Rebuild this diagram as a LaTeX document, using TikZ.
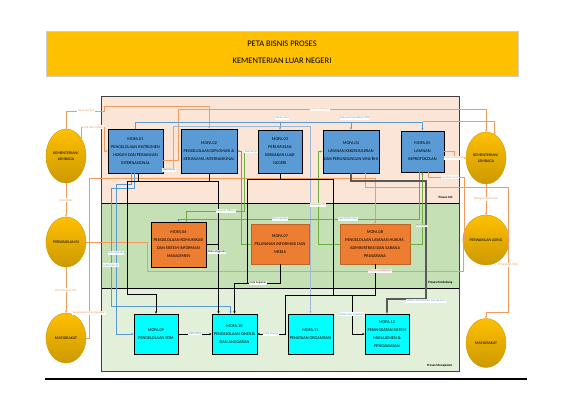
\documentclass[tikz,border=0pt]{standalone}
\usepackage{fontspec}
\setmainfont{Carlito}
\usetikzlibrary{arrows.meta,shapes.geometric}
\definecolor{coreblue}{HTML}{5B9BD5}
\definecolor{suporange}{HTML}{ED7D31}
\definecolor{mgmtcyan}{HTML}{00FFFF}
\definecolor{gold}{HTML}{FFC000}
\definecolor{golddark}{HTML}{CC9900}
\definecolor{titleedge}{HTML}{D0CECE}
\definecolor{peach}{HTML}{FBE5D6}
\definecolor{midgreen}{HTML}{C5E0B4}
\definecolor{lightgreen}{HTML}{E2F0D9}
\definecolor{framegray}{HTML}{404040}
\definecolor{lineorange}{HTML}{F19B5E}
\definecolor{lineblue}{HTML}{5B9BD5}
\definecolor{paleblue}{HTML}{9DB9D5}
\definecolor{linegreen}{HTML}{70AD47}
\definecolor{linegray}{HTML}{595959}
\tikzset{
  mofa/.style={draw=black, line width=0.8pt, align=center, inner sep=1pt, font=\fontsize{4.3}{8}\selectfont},
  inti/.style={mofa, fill=coreblue},
  dukung/.style={mofa, fill=suporange},
  manaj/.style={mofa, fill=mgmtcyan},
  aktor/.style={ellipse, draw=golddark, line width=0.4pt, top color=gold, bottom color=golddark, minimum width=40pt, minimum height=50pt, inner sep=0pt, align=center, font=\fontsize{4}{6}\selectfont},
  oline/.style={draw=lineorange, line width=0.8pt},
  bline/.style={draw=lineblue, line width=0.8pt},
  pbline/.style={draw=paleblue, line width=0.8pt},
  gline/.style={draw=linegreen, line width=0.7pt},
  kline/.style={draw=black, line width=0.8pt},
  arr/.style={-{Stealth[length=2.4pt,width=2.2pt]}},
  tag/.style={fill=white, inner sep=0.5pt, font=\fontsize{3}{3.5}\selectfont},
  pita/.style={font=\fontsize{3.2}{4}\selectfont\bfseries, anchor=east}
}
\begin{document}
\begin{tikzpicture}[x=1pt,y=1pt,yscale=-1]
\useasboundingbox (0,0) rectangle (576,402);

% Title
\draw[draw=titleedge, line width=1pt, fill=gold] (46,31) rectangle (518,76);
\node[font=\fontsize{8.5}{9}\selectfont] (judul1) at (282,44) {PETA BISNIS PROSES};
\node[font=\fontsize{8.5}{9}\selectfont] (judul2) at (282,61) {KEMENTERIAN LUAR NEGERI};

% Bands
\fill[peach] (101,96) rectangle (459,203);
\fill[midgreen] (101,203) rectangle (459,288);
\fill[lightgreen] (101,288) rectangle (459,371);
\draw[line width=0.6pt] (101,203) -- (459,203) (101,288) -- (459,288);
\draw[draw=framegray, line width=1pt] (101,96) rectangle (459,371);
\node[pita] (inti) at (456,197) {Proses Inti};
\node[pita] (dukung) at (456,283) {Proses Pendukung};
\node[pita] (manaj) at (456,366) {Proses Manajemen};

% Bottom rule
\draw[line width=1.8pt] (45,379) -- (527,379);

% Actors
\node[aktor, minimum height=54pt] (kl1) at (66,156) {KEMENTERIAN/\\LEMBAGA};
\node[aktor] (pa1) at (66,242) {PERWAKILAN RI};
\node[aktor] (mas1) at (66,338) {MASYARAKAT};
\node[aktor, minimum height=52pt] (kl2) at (486,158) {KEMENTERIAN/\\LEMBAGA};
\node[aktor] (pa2) at (486,240) {PERWAKILAN ASING};
\node[aktor, minimum height=49pt] (mas2) at (486,343) {MASYARAKAT};

% Proses inti
\node[inti, minimum width=55pt, minimum height=44pt] (m01) at (135.5,151) {MOFA.01\\PENGELOLAAN INSTRUMEN\\HUKUM DAN PERJANJIAN\\INTERNASIONAL};
\node[inti, minimum width=56pt, minimum height=44pt] (m02) at (209,151) {MOFA.02\\PENGELOLAAN DIPLOMASI \&\\KERJASAMA INTERNASIONAL};
\node[inti, minimum width=44pt, minimum height=43pt] (m03) at (280,151.5) {MOFA.03\\PERUMUSAN\\KEBIJAKAN LUAR\\NEGERI};
\node[inti, minimum width=56pt, minimum height=43pt] (m04) at (351,151.5) {MOFA.04\\LAYANAN KEKONSULERAN\\DAN PERLINDUNGAN WNI/BHI};
\node[inti, minimum width=43pt, minimum height=41pt] (m05) at (422.5,151.5) {MOFA.05\\LAYANAN\\KEPROTOKOLAN};

% Proses pendukung
\node[dukung, minimum width=55pt, minimum height=45pt] (m06) at (178.5,244.5) {MOFA.06\\PENGELOLAAN KOMUNIKASI\\DAN SISTEM INFORMASI\\MANAJEMEN};
\node[dukung, draw=suporange!80!black, line width=0.4pt, minimum width=58pt, minimum height=40pt] (m07) at (280,244) {MOFA.07\\PELAYANAN INFORMASI DAN\\MEDIA};
\node[dukung, draw=suporange!80!black, line width=0.4pt, minimum width=70pt, minimum height=40pt] (m08) at (375,244) {MOFA.08\\PENGELOLAAN LAYANAN HUKUM,\\ADMINISTRASI DAN SARANA\\PRASARANA};

% Proses manajemen
\node[manaj, minimum width=44pt, minimum height=40pt] (m09) at (156,334) {MOFA.09\\PENGELOLAAN SDM};
\node[manaj, minimum width=45pt, minimum height=40pt] (m10) at (234.5,334) {MOFA.10\\PENGELOLAAN KINERJA\\DAN ANGGARAN};
\node[manaj, minimum width=45pt, minimum height=40pt] (m11) at (310.5,334) {MOFA.11\\PENATAAN ORGANISASI};
\node[manaj, minimum width=44pt, minimum height=40pt] (m12) at (387,334) {MOFA.12\\PENINGKATAN SISTEM\\MANAJEMEN \&\\PENGAWASAN};
\coordinate (jalur2) at ([xshift=-16pt]m10.north);

% Orange lines
\draw[oline,arr] (kl1.north) |- (104,111) |- (m02.north |- 0,106) -- (m02.north);
\draw[oline,arr] (kl1.50) |- (104,127) |- (m01.west);
\draw[oline,arr] (m01.east |- 0,160) -| (178,109) -| (kl2.north);
\draw[oline,arr] (m05.north |- 0,121) -| (kl2.70);
\draw[oline,arr] (m05.east) -| (454,158) -- (kl2.west);
\draw[oline,arr] ([xshift=6pt]m05.south) |- (464,177) |- (pa2.west);
\draw[oline,arr] (kl2.south) -- (pa2.north);
\draw[oline,arr] ([xshift=14pt]m04.south) |- (508,187) |- (486,312) -- (mas2.north);
\draw[oline,arr] (kl1.south) -- (pa1.north);
\draw[oline,arr] (pa1.south) -- (mas1.north);
\draw[oline,arr] (pa1.east) -| (147,271) -- (463,271) |- (pa2.west);
\draw[oline,arr] (mas1.east) -| (89,178) -| (m08.north);

% Blue lines
\draw[bline,arr] (m01.north) |- (m05.north |- 0,122) -- (m05.north);
\draw[bline,arr] (m03.north |- 0,122) -- (m03.north);
\draw[bline,arr] (m04.north |- 0,122) -- (m04.north);
\draw[pbline,arr] (m01.east |- 0,170) -| (173,126) -| (m11.north);
\draw[bline,arr] ([xshift=-4pt]m01.south) |- (116,184) |- (m09.west);
\draw[bline,arr] ([xshift=-1pt]m01.south) |- (111,188) |- ([xshift=-4pt]m10.north |- 0,306) -- ([xshift=-4pt]m10.north);
\draw[bline,arr] ([xshift=-3pt]m05.south) |- (m06.north |- 0,219) -- (m06.north);

% Green lines
\draw[gline,arr] (m07.west) -| (241,151) -- (m02.east);
\draw[gline,arr] ([xshift=8pt]m06.north) |- (244,211) |- (m03.west);
\draw[gline,arr] (m08.west) -| (318,151.5) -- (m04.west);
\draw[gline,arr] (m08.east) -| (m05.south);

% Black lines
\draw[kline] ([xshift=3pt]m01.south) |- (127,181);
\draw[kline,arr] (m02.south) |- (127,181) |- (m09.north |- 0,294) -- (m09.north);
\draw[kline,arr] (m02.south |- 0,181) -| (jalur2);
\draw[kline] (m06.east) -- (m06.east -| jalur2);
\draw[kline,arr] (m07.south) |- (m10.north |- 0,283) -- (m10.north);
\draw[kline] (m03.south |- 0,179) -| (247,283);
\draw[kline,arr] (m03.south) |- (333,179) |- (352,295) |- (m12.west);
\draw[kline,arr] (m08.south) |- (285,295) |- (m10.east);
\draw[kline,arr] (m09.east) -- (m10.west);
\draw[draw=linegray, line width=1.1pt, arr] (m04.south) |- (426,181) |- (m12.north |- 0,299) -- (m12.north);

% Text Node
\node[tag, text=lineorange] (t01) at (86,111) {Surat dari K/L};
\node[tag, text=lineorange] (t02) at (93,127) {Surat dari instansi};
\node[tag, text=lineorange] (t03) at (320,109) {Surat undangan};
\node[tag, text=lineblue] (t04) at (282,118) {Saran/usul};
\node[tag, text=lineblue] (t05) at (355,118) {Data permasalahan WNI};
\node[tag, text=linegray] (t06) at (169,170) {Hasil kerja};
\node[tag, text=linegreen] (t07) at (251,151.5) {Data kerja};
\node[tag, text=linegreen] (t08) at (226,211) {Layanan Ditkom};
\node[tag, text=linegreen] (t09) at (318,205) {Layanan TIK};
\node[tag, text=lineblue] (t10) at (280,219) {Data agenda};
\node[tag, text=lineblue] (t11) at (348,219) {Surat/dokumen};
\node[tag, text=linegreen] (t12) at (422,226) {Data aset};
\node[tag] (t13) at (217,252) {Data anggaran};
\node[tag] (t14) at (258,283) {Data kegiatan};
\node[tag, text=lineblue] (t15) at (116,253) {Data laporan};
\node[tag, text=lineblue] (t16) at (111,265) {Informasi RI};
\node[tag, text=lineorange] (t17) at (66,200) {Koordinasi};
\node[tag, text=lineorange] (t18) at (66,290) {Permohonan info};
\node[tag, text=lineorange] (t19) at (89,313) {Tanggapan dan pengaduan};
\node[tag, text=red!70] (t20) at (380,271) {Informasi kebijakan};
\node[tag, text=lineorange] (t21) at (454,158) {Surat/undangan};
\node[tag, text=lineorange] (t22) at (450,177) {Jawaban surat};
\node[tag, text=lineorange] (t23) at (486,199) {Dialog di kecamatan};
\node[tag, text=lineorange] (t24) at (508,265) {Pengaduan WNI};
\node[tag, text=lineblue] (t25) at (195,334) {Data SDM};
\node[tag, text=lineblue] (t26) at (271,334) {Data kinerja};
\node[tag, text=lineblue] (t27) at (352,314) {Saran dan masukan};
\node[tag, text=lineblue] (t28) at (426,301) {Sistem administrasi manajemen};

\end{tikzpicture}
\end{document}
